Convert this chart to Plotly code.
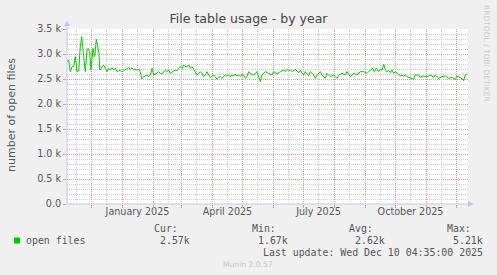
import plotly.graph_objects as go
import pandas as pd

# ---------------- data ----------------
start_date = "2024-11-06 12:00"
end_date = "2025-12-12 12:00"

days = [0, 1.7, 3.3, 5, 6.7, 8.3, 10, 11.7, 13.3, 14.7, 16.7, 18.3, 20, 21, 22.7, 24, 26, 27.7,
        29.3, 30.7, 32, 32.7, 35, 36.7, 38.3, 40, 41.7, 43.3, 45, 46.7, 48.3, 50, 51.7, 53.3,
        55, 56.7, 58.3, 60, 61.7, 63.3, 65, 66.7, 68.3, 70, 71.7, 73.3, 74.7, 76.7, 78.3, 80,
        81.7, 83.3, 85, 86.7, 88.3, 90, 91.7, 93.3, 95, 96.7, 98.3, 100, 101.7, 103.3, 105,
        106.7, 108.3, 110, 111.7, 113.3, 115, 116.7, 118.3, 120, 121.7, 123.3, 125, 126.7,
        128.3, 130, 131.7, 133.3, 135, 136.7, 138.3, 140, 141.7, 143.3, 145, 146.7, 148.3,
        150, 151.7, 153.3, 155, 156.7, 158.3, 160, 161.7, 163.3, 165, 166.7, 168.3, 170,
        171.7, 173.3, 175, 176.7, 178.3, 180, 181.7, 183.3, 186.7, 190, 193.3, 195, 198.3,
        201.7, 205, 206.7, 210, 213.3, 216.7, 218.3, 220, 221.7, 223.3, 225, 228.3, 231.7,
        233.3, 236.7, 238.3, 241.7, 243.3, 246.7, 248.3, 250, 253.3, 255, 258.3, 260, 263.3,
        266.7, 270, 271.7, 275, 278.3, 280, 283.3, 286.7, 290, 293.3, 296.7, 300, 303.3, 306,
        307.3, 309.3, 311.7, 313.3, 315, 316.7, 318.3, 320, 321.7, 323.3, 325, 326.7, 328.3,
        330, 331.7, 333.3, 335, 336.7, 338.3, 340, 343.3, 346.7, 348.3, 351.7, 353.3, 356.7,
        360, 363.3, 366.7, 368.3, 371.7, 375, 378.3, 381.7, 385, 388.3, 390, 393.3, 396.7,
        398.3, 400]

open_files = [2847, 2880, 2647, 2747, 2747, 2947, 2647, 2660, 3147, 3347, 2947, 2647, 3080, 3113,
              3047, 2680, 3113, 2947, 3293, 3147, 3013, 2680, 2747, 2780, 2713, 2647, 2713, 2680,
              2727, 2680, 2713, 2647, 2667, 2680, 2647, 2667, 2693, 2713, 2727, 2693, 2713, 2700,
              2693, 2680, 2693, 2647, 2500, 2547, 2560, 2580, 2547, 2580, 2713, 2580, 2600, 2613,
              2647, 2613, 2600, 2647, 2680, 2647, 2680, 2613, 2627, 2667, 2680, 2667, 2713, 2747,
              2713, 2780, 2747, 2747, 2780, 2713, 2747, 2680, 2647, 2580, 2613, 2647, 2613, 2547,
              2580, 2647, 2580, 2533, 2560, 2580, 2547, 2493, 2533, 2547, 2513, 2547, 2580, 2560,
              2580, 2547, 2580, 2560, 2600, 2560, 2580, 2547, 2600, 2580, 2513, 2547, 2647, 2613,
              2580, 2647, 2447, 2580, 2647, 2613, 2580, 2647, 2600, 2647, 2680, 2647, 2693, 2667,
              2680, 2647, 2693, 2627, 2667, 2580, 2647, 2560, 2647, 2580, 2513, 2580, 2647, 2580,
              2513, 2613, 2547, 2580, 2513, 2580, 2613, 2580, 2647, 2547, 2613, 2580, 2647, 2647,
              2613, 2680, 2713, 2647, 2713, 2647, 2693, 2680, 2793, 2680, 2647, 2667, 2627, 2680,
              2613, 2647, 2627, 2600, 2560, 2580, 2560, 2580, 2547, 2513, 2493, 2580, 2580, 2533,
              2560, 2547, 2580, 2533, 2580, 2513, 2547, 2560, 2513, 2533, 2493, 2560, 2533, 2467,
              2580, 2600]

x_label_dates = ["2025-01-16", "2025-04-16", "2025-07-16", "2025-10-16"]
x_labels = ["January 2025", "April 2025", "July 2025", "October 2025"]
y_tick_vals = [0, 500, 1000, 1500, 2000, 2500, 3000, 3500]
y_tick_text = ["0.0", "0.5 k", "1.0 k", "1.5 k", "2.0 k", "2.5 k", "3.0 k", "3.5 k"]
stat_names = ["Cur:", "Min:", "Avg:", "Max:"]
stat_values = ["2.57k", "1.67k", "2.62k", "5.21k"]
series_name = "open files"
last_update = "Last update: Wed Dec 10 04:35:00 2025"

# ---------------- layout helpers ----------------
W, H = 497, 275
L, R, T, B = 67, 29, 29, 71
PW, PH = W - L - R, H - T - B


def px(xp):
    return (xp - L) / PW


def py(yp):
    return (H - B - yp) / PH


dates = pd.Timestamp(start_date) + pd.to_timedelta(days, unit="D")
month_starts = list(pd.date_range("2024-12-01", "2025-12-01", freq="MS"))
mid_months = list(pd.date_range("2024-11-01", "2025-12-01", freq="MS") + pd.Timedelta(days=15))

RED = "#e49a9a"
GRAY = "#cfcfcf"
AXIS = "#c4c4f4"
TXT = "#555555"
DOT = "1px,1px"

fig = go.Figure()
fig.add_trace(go.Scatter(x=dates, y=open_files, mode="lines",
                         line=dict(color="#00cc00", width=1), showlegend=False,
                         hoverinfo="skip"))
for ax in ("x2", "x3"):
    fig.add_trace(go.Scatter(x=[pd.Timestamp(start_date), pd.Timestamp(end_date)],
                             y=[None, None], xaxis=ax, mode="lines", showlegend=False,
                             hoverinfo="skip"))

fig.update_layout(
    width=W, height=H,
    margin=dict(l=L, r=R, t=T, b=B),
    paper_bgcolor="#f0f0f0", plot_bgcolor="#ffffff",
    font=dict(family="DejaVu Sans", color=TXT),
    title=dict(text="File table usage - by year", x=0.5, xref="container",
               y=1 - 18.5 / H, yref="container", xanchor="center", yanchor="middle",
               font=dict(family="DejaVu Sans", size=12.5, color="#444444")),
    # labels
    xaxis=dict(type="date", range=[start_date, end_date],
               tickmode="array", tickvals=x_label_dates, ticktext=x_labels,
               showgrid=False, zeroline=False, showline=False, ticks="",
               tickfont=dict(family="DejaVu Sans", size=9.6, color=TXT)),
    # minor gray grid (mid month)
    xaxis3=dict(type="date", range=[start_date, end_date], overlaying="x", anchor="y",
                side="bottom", tickmode="array", tickvals=mid_months,
                showticklabels=False, showgrid=True, gridcolor=GRAY,
                griddash=DOT, gridwidth=1, zeroline=False, ticks=""),
    # major red grid (month starts)
    xaxis2=dict(type="date", range=[start_date, end_date], overlaying="x", anchor="y",
                side="bottom", tickmode="array", tickvals=month_starts,
                showticklabels=False, showgrid=True, gridcolor=RED,
                griddash=DOT, gridwidth=1, zeroline=False,
                ticks="outside", ticklen=3, tickcolor=RED),
    yaxis=dict(range=[0, 3500], tickmode="array", tickvals=y_tick_vals, ticktext=y_tick_text,
               showgrid=True, gridcolor=RED, griddash=DOT, gridwidth=1,
               zeroline=False, showline=False, ticks="outside", ticklen=3, tickcolor=RED,
               tickfont=dict(family="DejaVu Sans", size=9.6, color=TXT),
               minor=dict(dtick=100, tick0=0, showgrid=True, gridcolor=GRAY,
                          griddash=DOT, gridwidth=1)),
)

shapes = [
    dict(type="line", xref="paper", yref="paper", x0=px(67), x1=px(469), y0=py(204), y1=py(204),
         line=dict(color=AXIS, width=1)),
    dict(type="line", xref="paper", yref="paper", x0=px(67), x1=px(67), y0=py(204), y1=py(25),
         line=dict(color=AXIS, width=1)),
    dict(type="path", xref="paper", yref="paper",
         path=f"M {px(64)} {py(26)} L {px(70)} {py(26)} L {px(67)} {py(20.5)} Z",
         fillcolor=AXIS, line=dict(width=0)),
    dict(type="path", xref="paper", yref="paper",
         path=f"M {px(468)} {py(201)} L {px(468)} {py(207)} L {px(473.5)} {py(204)} Z",
         fillcolor=AXIS, line=dict(width=0)),
    dict(type="rect", xref="paper", yref="paper", x0=px(14), x1=px(20), y0=py(243.5),
         y1=py(237.5), fillcolor="#00cc00", line=dict(width=0)),
]
fig.update_layout(shapes=shapes)

MONO = "DejaVu Sans Mono"
ann = []


def text(t, xp, yp, anchor="left", size=9.9, color=TXT, family=MONO, angle=0):
    ann.append(dict(text=t, xref="paper", yref="paper", x=px(xp), y=py(yp),
                    xanchor=anchor, yanchor="middle", showarrow=False,
                    borderpad=0, borderwidth=0, textangle=angle,
                    font=dict(family=family, size=size, color=color)))


text("number of open files", 11, 115, anchor="center", size=11, family="DejaVu Sans",
     angle=-90)
text("RRDTOOL / TOBI OETIKER", 487, 53, anchor="center", size=7.5, color="#cccccc",
     family="DejaVu Sans", angle=90)
text(series_name, 26, 240.5)
label_left = [154, 251.7, 349, 446.7]
value_right = [190, 288.3, 385, 482.7]
for name, val, xl, xr in zip(stat_names, stat_values, label_left, value_right):
    text(name, xl, 228)
    text(val, xr, 240.5, anchor="right")
text(last_update, 482.5, 252, anchor="right")
text("Munin 2.0.57", 248, 264, anchor="center", size=7.6, color="#c8c8c8",
     family="DejaVu Sans")
fig.update_layout(annotations=ann)

fig.write_html("out.html")
